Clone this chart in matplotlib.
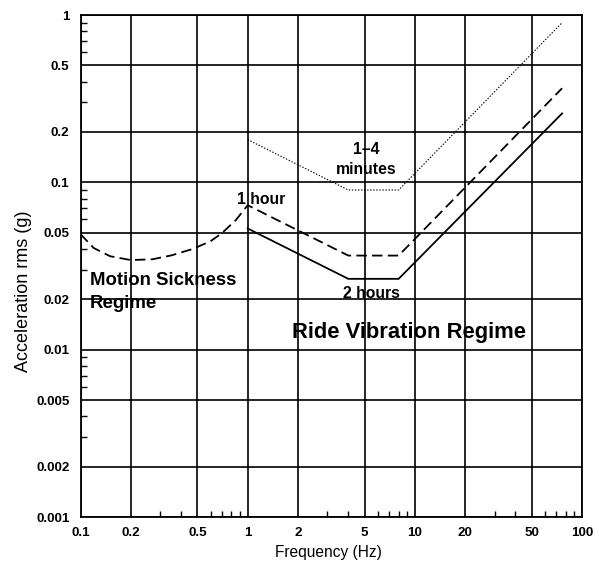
import matplotlib
matplotlib.use("Agg")
import matplotlib.pyplot as plt
from matplotlib.ticker import FixedLocator, FixedFormatter, LogLocator, NullFormatter

# ---- data ----
# Motion sickness (dashed, continues into the 1-hour curve)
ms_freq = [0.1, 0.12, 0.15, 0.2, 0.27, 0.35, 0.47, 0.6, 0.7, 0.85, 1.0]
ms_acc = [0.049, 0.0405, 0.0362, 0.0343, 0.0347, 0.0366, 0.040, 0.0445, 0.0496, 0.0595, 0.073]
# 1 hour (dashed)
h1_freq = [1, 4, 8, 76]
h1_acc = [0.073, 0.0365, 0.0365, 0.365]
# 2 hours (solid)
h2_freq = [1, 4, 8, 76]
h2_acc = [0.053, 0.0265, 0.0265, 0.258]
# 1-4 minutes (dotted)
m4_freq = [1, 4, 8, 76]
m4_acc = [0.18, 0.09, 0.09, 0.9]

x_ticks = [0.1, 0.2, 0.5, 1, 2, 5, 10, 20, 50, 100]
x_tick_labels = ["0.1", "0.2", "0.5", "1", "2", "5", "10", "20", "50", "100"]
y_ticks = [0.001, 0.002, 0.005, 0.01, 0.02, 0.05, 0.1, 0.2, 0.5, 1]
y_tick_labels = ["0.001", "0.002", "0.005", "0.01", "0.02", "0.05", "0.1", "0.2", "0.5", "1"]

plt.rcParams['font.family'] = ['Liberation Sans', 'DejaVu Sans']
plt.rcParams['lines.scale_dashes'] = False

fig = plt.figure(figsize=(5.99, 5.71), dpi=100)
L, R, T, B = 80.5, 582, 15, 517
W, H = 599, 571
ax = fig.add_axes([L / W, 1 - B / H, (R - L) / W, (B - T) / H])
ax.set_xscale('log')
ax.set_yscale('log')
ax.set_xlim(0.1, 100)
ax.set_ylim(0.001, 1)

# grid
ax.xaxis.set_major_locator(FixedLocator(x_ticks))
ax.xaxis.set_major_formatter(FixedFormatter(x_tick_labels))
ax.yaxis.set_major_locator(FixedLocator(y_ticks))
ax.yaxis.set_major_formatter(FixedFormatter(y_tick_labels))
ax.xaxis.set_minor_locator(LogLocator(base=10, subs=(3, 4, 6, 7, 8, 9)))
ax.yaxis.set_minor_locator(LogLocator(base=10, subs=(3, 4, 6, 7, 8, 9)))
ax.xaxis.set_minor_formatter(NullFormatter())
ax.yaxis.set_minor_formatter(NullFormatter())
ax.grid(True, which='major', color='black', linewidth=1.2)

ax.tick_params(which='major', length=0, labelsize=9.6)
ax.tick_params(axis='x', which='major', pad=7.4)
ax.tick_params(axis='y', which='major', pad=7.9)
ax.tick_params(which='minor', direction='in', length=4, width=1, color='black')
for lab in ax.get_xticklabels() + ax.get_yticklabels():
    lab.set_fontweight('bold')

for s in ax.spines.values():
    s.set_linewidth(1.3)
    s.set_color('black')

# curves
ax.plot(ms_freq + h1_freq[1:], ms_acc + h1_acc[1:], color='black', lw=1.3,
        linestyle=(0, (7.5, 3.8)), zorder=3)
ax.plot(h2_freq, h2_acc, color='black', lw=1.3, zorder=3)
ax.plot(m4_freq, m4_acc, color='black', lw=0.8, linestyle=(0, (1, 1.2)), zorder=3)

# annotations
bold = dict(fontweight='bold', color='black')
ax.text(0.863, 0.0742, "1 hour", ha='left', va='baseline', fontsize=11.3, **bold)
ax.text(5.15, 0.1476, "1–4", ha='center', va='baseline', fontsize=11.3, **bold)
ax.text(5.1, 0.112, "minutes", ha='center', va='baseline', fontsize=11.3, **bold)
ax.text(5.5, 0.0203, "2 hours", ha='center', va='baseline', fontsize=11.3, **bold)
ax.text(0.114, 0.0243, "Motion Sickness", ha='left', va='baseline', fontsize=13.4, **bold)
ax.text(0.114, 0.0178, "Regime", ha='left', va='baseline', fontsize=13.4, **bold)
ax.text(1.83, 0.0118, "Ride Vibration Regime", ha='left', va='baseline', fontsize=15.8, **bold)

ax.set_xlabel("Frequency (Hz)", fontsize=11.2)
ax.set_ylabel("Acceleration rms (g)", fontsize=13)
ax.xaxis.set_label_coords((328.3 - L) / (R - L), (B - 557) / (B - T))
ax.xaxis.label.set_va('baseline')
ax.yaxis.set_label_coords((23.3 - L) / (R - L), (B - 291.5) / (B - T))
ax.yaxis.label.set_va('center')

fig.savefig("out.png", dpi=100)
